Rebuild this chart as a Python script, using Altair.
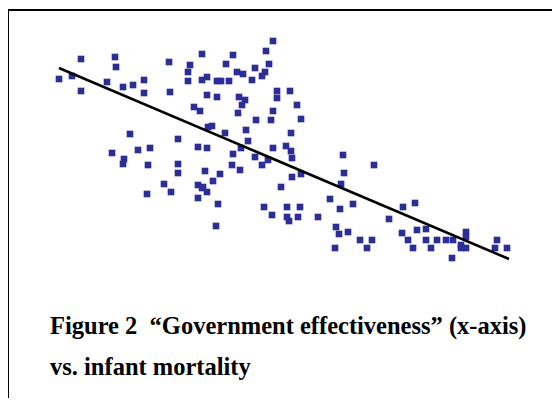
import altair as alt
import pandas as pd

# Government effectiveness (x) vs infant mortality (y), one value per country
gov_eff = [-2.26, -2.13, -2.04, -2.04, -1.70, -1.69, -1.78, -1.62, -1.52, -1.41,
           -1.41, -1.16, -1.15, -0.95, -0.97, -0.97, -0.83, -0.83, -0.78, -0.78,
           -0.91, -0.85, -0.77, -1.55, -1.07, -1.35, -1.47, -1.73, -1.61, -1.62,
           -1.37, -1.07, -1.07, -0.80, -0.87, -0.78, -1.21, -1.38, -1.14, -0.87,
           -0.83, -0.87, -0.78, -0.67, -0.69, -0.12, -0.19, -0.52, -0.59, -0.48,
           -0.42, -0.30, -0.16, -0.20, -0.23, -0.33, -0.68, -0.64, -0.56, -0.08,
           -0.08, 0.05, -0.68, -0.46, -0.40, -0.43, 0.12, -0.12, -0.47, -0.29,
           -0.14, 0.16, -0.73, -0.39, 0.06, -0.60, -0.37, -0.52, -0.44, -0.30,
           -0.12, 0.01, 0.06, 0.07, -0.23, -0.17, -0.53, -0.45, -0.65, -0.72,
           -0.82, 0.07, 0.16, -0.04, 0.58, 0.59, 0.56, 0.45, 0.68, 0.55,
           -0.21, 0.02, 0.15, -0.13, 0.02, 0.04, 0.13, 0.33, 0.51, 0.54,
           0.63, 0.75, 0.50, 0.89, 1.18, 1.30, 1.04, 1.32, 1.41, 1.17,
           1.81, 1.81, 0.87, 1.23, 1.41, 1.52, 1.61, 1.68, 2.12, 1.76,
           0.82, 1.28, 1.46, 1.76, 1.81, 2.10, 2.22, 1.67]
infant_mort = [95.5, 97, 105.5, 89.5, 106.5, 101.5, 94, 91.5, 92.5, 95,
               88.5, 104, 89, 102.5, 99, 94.5, 108, 95, 96.5, 87.5,
               81.5, 79.5, 71.5, 68, 65.5, 61, 60, 58.5, 55.5, 53,
               52.5, 53, 48.5, 49.5, 61.5, 61, 43, 38, 39, 42.5,
               41, 36, 39, 33, 22, 114.5, 109.5, 107.5, 103, 99,
               98, 101, 103, 99, 97, 95, 94.5, 94.5, 94.5, 89.5,
               86, 89.5, 86.5, 86.5, 85, 82.5, 82.5, 79.5, 78.5, 75,
               75, 75.5, 72, 70, 68.5, 68.5, 64.5, 58, 61, 56.5,
               61, 62, 59.5, 56, 52.5, 55, 52.5, 50, 48, 44.5,
               41.5, 46.5, 48, 41.5, 57.5, 48.5, 43, 35.5, 33, 30.5,
               31.5, 31.5, 31.5, 27.5, 26.5, 24.5, 26.5, 26.5, 21.5, 18,
               19, 15, 11, 52.5, 31.5, 33.5, 25.5, 20, 20.5, 18.5,
               19, 16.5, 15, 15, 15, 15, 15, 15, 15, 12.5,
               11, 11, 11, 11, 11, 11, 11, 6]

# fitted trend line end points
fit_x = [-2.26, 2.24]
fit_y = [101, 5.5]

caption_1 = "Figure 2\u00a0 \u201cGovernment effectiveness\u201d (x-axis)"
caption_2 = "vs. infant mortality"

pts = pd.DataFrame({"gov": gov_eff, "mort": infant_mort})
fit = pd.DataFrame({"gov": fit_x, "mort": fit_y})
one = pd.DataFrame({"k": [0]})

xs = alt.Scale(domain=[-2.77, 2.67], nice=False, zero=False)
ys = alt.Scale(domain=[-64, 131], nice=False, zero=False)

points = alt.Chart(pts).mark_square(size=44, color="#2B2E97", opacity=1).encode(
    x=alt.X("gov:Q", scale=xs, axis=None),
    y=alt.Y("mort:Q", scale=ys, axis=None),
)

line = alt.Chart(fit).mark_line(color="black", strokeWidth=2.6).encode(
    x=alt.X("gov:Q", scale=xs, axis=None),
    y=alt.Y("mort:Q", scale=ys, axis=None),
)

frame_left = alt.Chart(one).mark_rule(color="black", strokeWidth=2).encode(
    x=alt.value(0), y=alt.value(1), y2=alt.value(390))
frame_top = alt.Chart(one).mark_rule(color="black", strokeWidth=2).encode(
    x=alt.value(0), x2=alt.value(544), y=alt.value(2))

txt1 = alt.Chart(one).mark_text(
    font="Liberation Serif", fontWeight="bold", fontSize=24.5, align="left",
    baseline="alphabetic", color="black").encode(
    x=alt.value(42), y=alt.value(326), text=alt.value(caption_1))
txt2 = alt.Chart(one).mark_text(
    font="Liberation Serif", fontWeight="bold", fontSize=24.5, align="left",
    baseline="alphabetic", color="black").encode(
    x=alt.value(42), y=alt.value(367), text=alt.value(caption_2))

chart = alt.layer(points, line, frame_left, frame_top, txt1, txt2).properties(
    width=544, height=390, padding=0, autosize=alt.AutoSizeParams(type="none")
).configure(background="white").configure_view(stroke="transparent", strokeWidth=0)

chart.save("out.html", embed_options={"renderer": "svg", "actions": False})
